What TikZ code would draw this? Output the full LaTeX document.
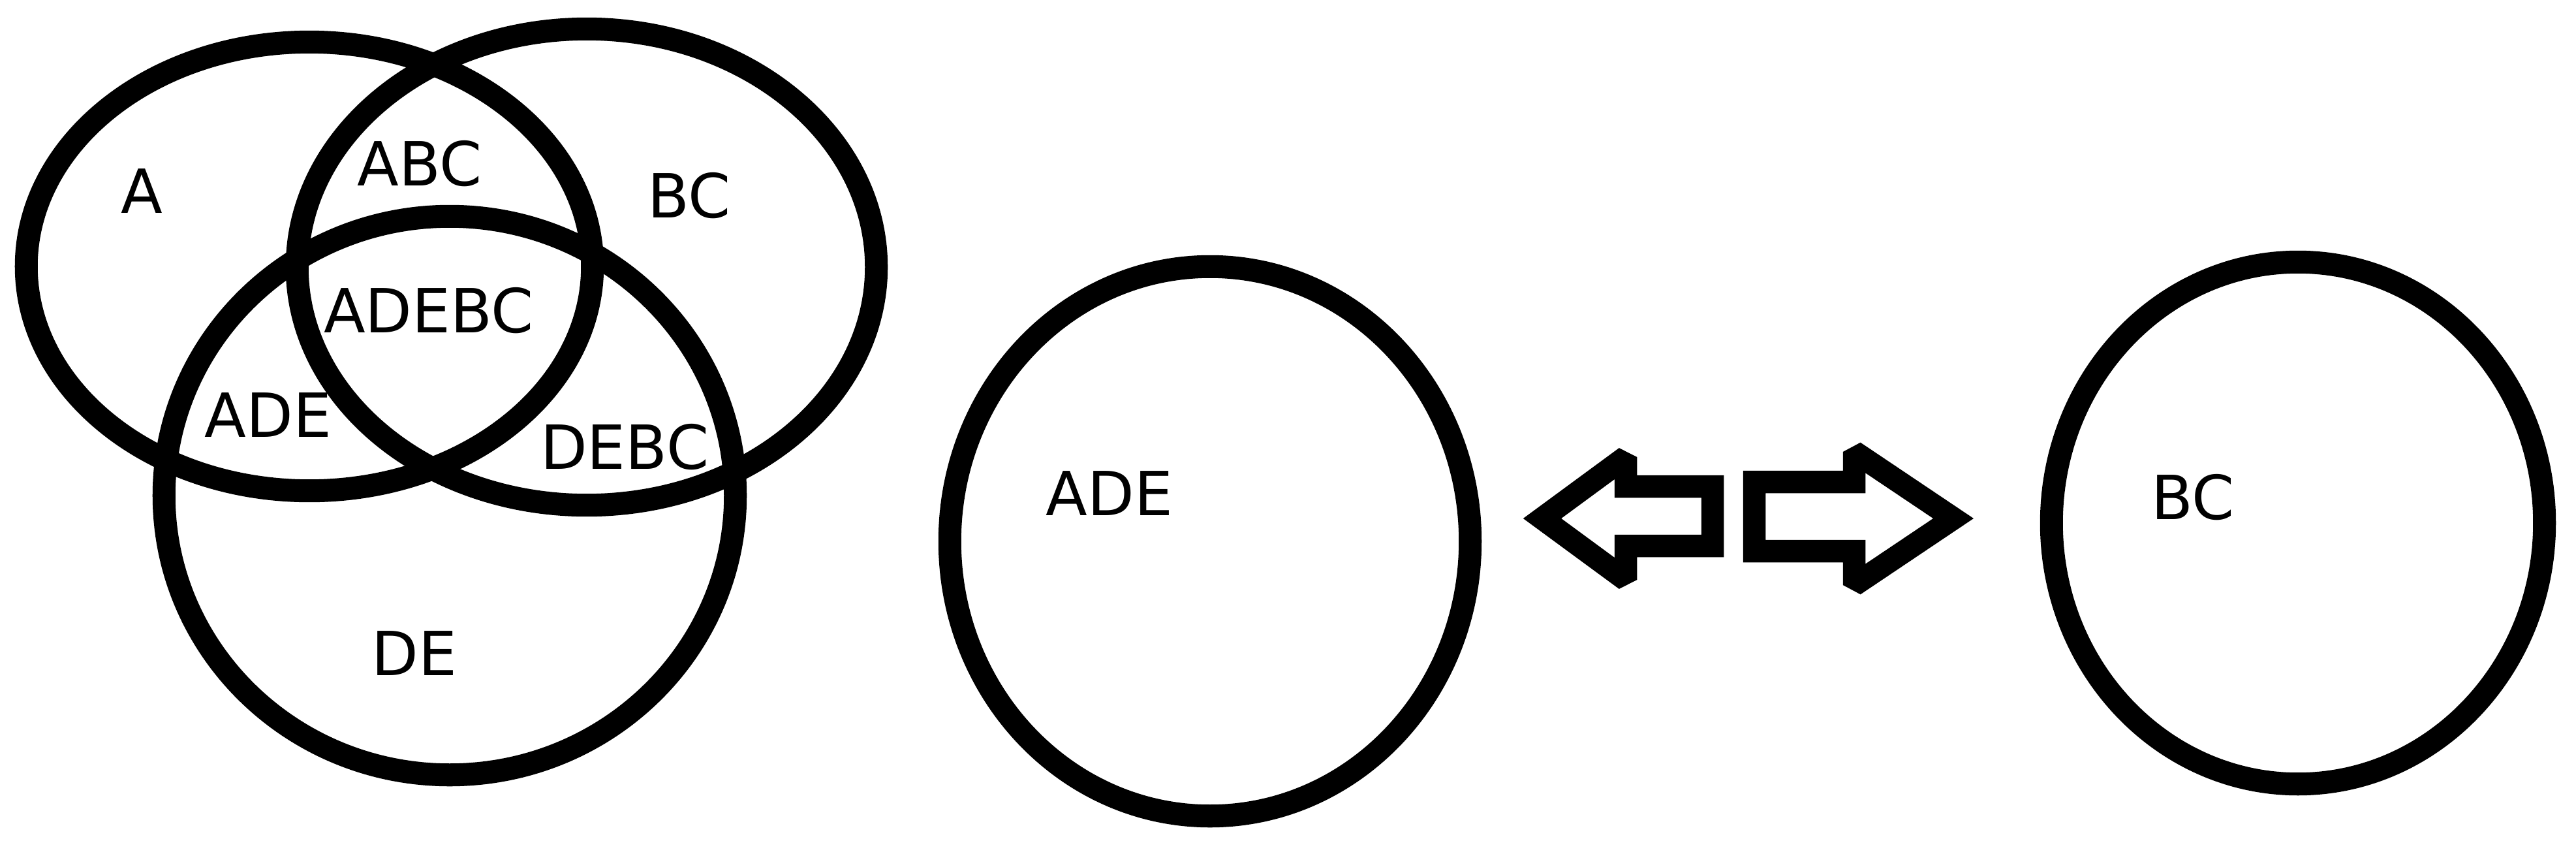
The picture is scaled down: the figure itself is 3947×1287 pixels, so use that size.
\documentclass[tikz,border=0pt]{standalone}
\usepackage{fontspec}
\setmainfont{DejaVu Sans}
\usetikzlibrary{shapes.geometric}
\tikzset{
  ring/.style={draw=black, line width=0.35cm, ellipse, inner sep=0pt, fill=none},
  lab/.style={inner sep=0pt, font=\fontsize{26.5pt}{30pt}\selectfont},
  outlinearrow/.style={draw=black, line width=0.345cm, line join=miter, miter limit=2}
}
\begin{document}
\begin{tikzpicture}[x=0.01cm, y=-0.01cm]
\useasboundingbox (0,0) rectangle (3947,1287);
% Venn diagram
\node[ring, minimum width=8.67cm, minimum height=6.87cm] (eA) at (474,408) {};
\node[ring, minimum width=8.87cm, minimum height=7.29cm] (eBC) at (899,409) {};
\node[ring, minimum width=8.75cm, minimum height=8.55cm] (eDE) at (689,759) {};
\node[lab] (tA) at (217,293) {A};
\node[lab] (tABC) at (643,251) {ABC};
\node[lab] (tBC) at (1056,300) {BC};
\node[lab] (tADEBC) at (657,476) {ADEBC};
\node[lab] (tADE) at (411,636) {ADE};
\node[lab] (tDEBC) at (957,685) {DEBC};
\node[lab] (tDE) at (635,1001) {DE};
% separate circles
\node[ring, minimum width=7.97cm, minimum height=8.41cm] (cADE) at (1854,829) {};
\node[lab] (tcADE) at (1700,756) {ADE};
\node[ring, minimum width=7.55cm, minimum height=7.99cm] (cBC) at (3521,801) {};
\node[lab] (tcBC) at (3360,762) {BC};
% outlined arrows
\coordinate (lt) at (2363,794);
\coordinate (rt) at (2993,794);
\draw[outlinearrow] (lt) -- (2491,700) -- (2491,745) -- (2624,745)
  -- (2624,836) -- (2491,836) -- (2491,888) -- cycle;
\draw[outlinearrow] (rt) -- (2841,692) -- (2841,738) -- (2688,738)
  -- (2688,844) -- (2841,844) -- (2841,896) -- cycle;
\end{tikzpicture}
\end{document}
